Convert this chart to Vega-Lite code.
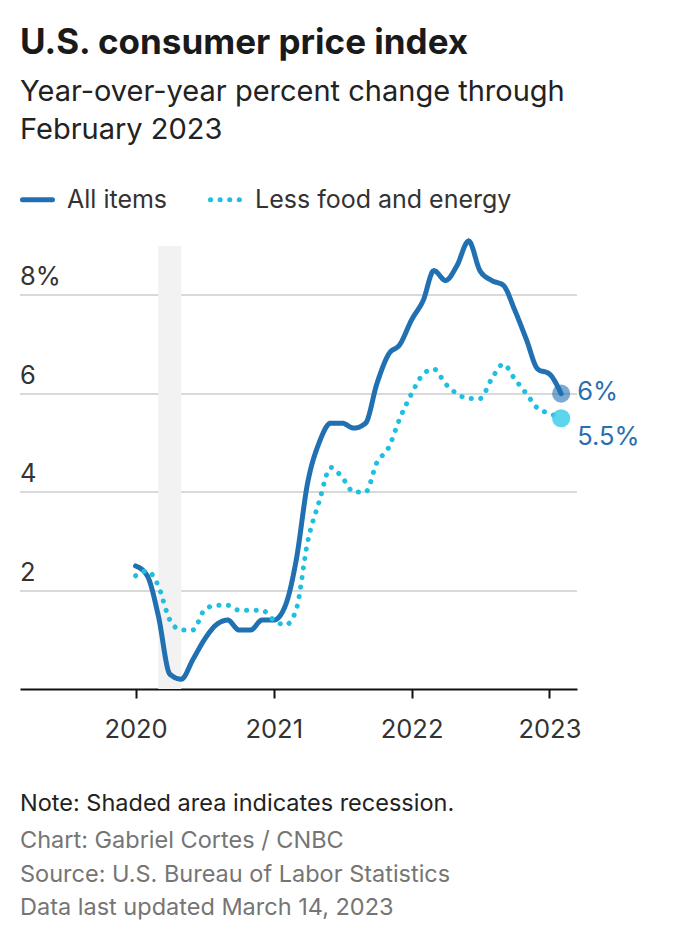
{
  "$schema": "https://vega.github.io/schema/vega-lite/v6.json",
  "background": "white",
  "padding": {"left": 20, "top": 26, "right": 0, "bottom": 0},
  "config": {
    "font": "Inter",
    "view": {"stroke": null},
    "title": {"anchor": "start"}
  },
  "title": {
    "text": "U.S. consumer price index",
    "subtitle": ["Year-over-year percent change through", "February 2023"],
    "anchor": "start",
    "font": "Inter",
    "fontSize": 35,
    "fontWeight": "bold",
    "color": "#1a1a1a",
    "subtitleFont": "Inter",
    "subtitleFontSize": 29,
    "subtitleColor": "#222222",
    "subtitleLineHeight": 38,
    "subtitlePadding": 17,
    "offset": 37
  },
  "vconcat": [
    {
      "width": 557,
      "height": 443,
      "title": {
        "text": "Note: Shaded area indicates recession.",
        "subtitle": ["Chart: Gabriel Cortes / CNBC", "Source: U.S. Bureau of Labor Statistics", "Data last updated March 14, 2023"],
        "orient": "bottom",
        "anchor": "start",
        "font": "Inter",
        "fontSize": 23.5,
        "fontWeight": "normal",
        "color": "#222222",
        "subtitleFont": "Inter",
        "subtitleFontSize": 23.5,
        "subtitleColor": "#757575",
        "subtitleLineHeight": 33.5,
        "subtitlePadding": 14,
        "offset": 49
      },
      "layer": [
        {
          "data": {"values": [{"start": "2020-03-01", "end": "2020-05-01"}]},
          "mark": {"type": "rect", "color": "#f2f2f2"},
          "encoding": {
            "x": {"field": "start", "type": "temporal"},
            "x2": {"field": "end"}
          }
        },
        {
          "data": {
            "values": [
              {"date": "2020-01-01", "All items": 2.5, "Less food and energy": 2.3},
              {"date": "2020-02-01", "All items": 2.3, "Less food and energy": 2.4},
              {"date": "2020-03-01", "All items": 1.5, "Less food and energy": 2.1},
              {"date": "2020-04-01", "All items": 0.3, "Less food and energy": 1.4},
              {"date": "2020-05-01", "All items": 0.2, "Less food and energy": 1.2},
              {"date": "2020-06-01", "All items": 0.6, "Less food and energy": 1.2},
              {"date": "2020-07-01", "All items": 1.0, "Less food and energy": 1.6},
              {"date": "2020-08-01", "All items": 1.3, "Less food and energy": 1.7},
              {"date": "2020-09-01", "All items": 1.4, "Less food and energy": 1.7},
              {"date": "2020-10-01", "All items": 1.2, "Less food and energy": 1.6},
              {"date": "2020-11-01", "All items": 1.2, "Less food and energy": 1.6},
              {"date": "2020-12-01", "All items": 1.4, "Less food and energy": 1.6},
              {"date": "2021-01-01", "All items": 1.4, "Less food and energy": 1.4},
              {"date": "2021-02-01", "All items": 1.7, "Less food and energy": 1.3},
              {"date": "2021-03-01", "All items": 2.6, "Less food and energy": 1.6},
              {"date": "2021-04-01", "All items": 4.2, "Less food and energy": 3.0},
              {"date": "2021-05-01", "All items": 5.0, "Less food and energy": 3.8},
              {"date": "2021-06-01", "All items": 5.4, "Less food and energy": 4.5},
              {"date": "2021-07-01", "All items": 5.4, "Less food and energy": 4.3},
              {"date": "2021-08-01", "All items": 5.3, "Less food and energy": 4.0},
              {"date": "2021-09-01", "All items": 5.4, "Less food and energy": 4.0},
              {"date": "2021-10-01", "All items": 6.2, "Less food and energy": 4.6},
              {"date": "2021-11-01", "All items": 6.8, "Less food and energy": 4.9},
              {"date": "2021-12-01", "All items": 7.0, "Less food and energy": 5.5},
              {"date": "2022-01-01", "All items": 7.5, "Less food and energy": 6.0},
              {"date": "2022-02-01", "All items": 7.9, "Less food and energy": 6.4},
              {"date": "2022-03-01", "All items": 8.5, "Less food and energy": 6.5},
              {"date": "2022-04-01", "All items": 8.3, "Less food and energy": 6.2},
              {"date": "2022-05-01", "All items": 8.6, "Less food and energy": 6.0},
              {"date": "2022-06-01", "All items": 9.1, "Less food and energy": 5.9},
              {"date": "2022-07-01", "All items": 8.5, "Less food and energy": 5.9},
              {"date": "2022-08-01", "All items": 8.3, "Less food and energy": 6.3},
              {"date": "2022-09-01", "All items": 8.2, "Less food and energy": 6.6},
              {"date": "2022-10-01", "All items": 7.7, "Less food and energy": 6.3},
              {"date": "2022-11-01", "All items": 7.1, "Less food and energy": 6.0},
              {"date": "2022-12-01", "All items": 6.5, "Less food and energy": 5.7},
              {"date": "2023-01-01", "All items": 6.4, "Less food and energy": 5.6},
              {"date": "2023-02-01", "All items": 6.0, "Less food and energy": 5.5}
            ]
          },
          "transform": [
            {"fold": ["All items", "Less food and energy"], "as": ["series", "value"]}
          ],
          "mark": {"type": "line", "strokeWidth": 5, "strokeCap": "round", "strokeJoin": "round", "interpolate": "monotone"},
          "encoding": {
            "x": {
              "field": "date",
              "type": "temporal",
              "scale": {"type": "utc", "domain": [{"year": 2019, "month": 3, "date": 1, "utc": true}, {"year": 2023, "month": 3, "date": 15, "utc": true}]},
              "axis": {
                "title": null,
                "values": [{"year": 2020, "utc": true}, {"year": 2021, "utc": true}, {"year": 2022, "utc": true}, {"year": 2023, "utc": true}],
                "format": "%Y",
                "grid": false,
                "domainColor": "#111111",
                "domainWidth": 2,
                "tickColor": "#111111",
                "tickWidth": 2,
                "tickSize": 9,
                "labelPadding": 19,
                "labelFontSize": 25.5,
                "labelColor": "#333333",
                "labelFont": "Inter"
              }
            },
            "y": {
              "field": "value",
              "type": "quantitative",
              "scale": {"domain": [0, 9], "nice": false, "zero": true},
              "axis": {
                "title": null,
                "values": [2, 4, 6, 8],
                "labelExpr": "datum.value == 8 ? '8%' : datum.label",
                "domain": false,
                "ticks": false,
                "grid": true,
                "gridColor": "#cccccc",
                "gridWidth": 1.5,
                "labelAlign": "left",
                "labelBaseline": "alphabetic",
                "labelPadding": 0,
                "labelOffset": -10,
                "labelFontSize": 25.5,
                "labelColor": "#333333",
                "labelFont": "Inter",
                "translate": 0
              }
            },
            "color": {
              "field": "series",
              "type": "nominal",
              "scale": {"domain": ["All items", "Less food and energy"], "range": ["#2171b2", "#1fbfe0"]},
              "legend": {
                "title": null,
                "orient": "top",
                "direction": "horizontal",
                "symbolType": "stroke",
                "symbolStrokeWidth": 5,
                "symbolSize": 900,
                "labelFontSize": 25,
                "labelColor": "#333333",
                "labelFont": "Inter",
                "labelLimit": 500,
                "labelOffset": 12,
                "columnPadding": 32,
                "offset": 25,
                "encode": {"symbols": {"update": {"strokeCap": {"value": "round"}}}}
              }
            },
            "strokeDash": {
              "field": "series",
              "type": "nominal",
              "scale": {"domain": ["All items", "Less food and energy"], "range": [[1, 0], [0.1, 9.5]]},
              "legend": {
                "title": null,
                "orient": "top",
                "direction": "horizontal",
                "symbolType": "stroke",
                "symbolStrokeWidth": 5,
                "symbolSize": 900,
                "labelFontSize": 25,
                "labelColor": "#333333",
                "labelFont": "Inter",
                "labelLimit": 500,
                "labelOffset": 12,
                "columnPadding": 32,
                "offset": 25,
                "encode": {"symbols": {"update": {"strokeCap": {"value": "round"}}}}
              }
            }
          }
        },
        {
          "data": {"values": [{"date": "2023-02-01", "value": 6.0}]},
          "mark": {"type": "circle", "size": 330, "color": "#2171b2", "opacity": 0.6},
          "encoding": {
            "x": {"field": "date", "type": "temporal"},
            "y": {"field": "value", "type": "quantitative"}
          }
        },
        {
          "data": {"values": [{"date": "2023-02-01", "value": 5.5}]},
          "mark": {"type": "circle", "size": 330, "color": "#3fcfec", "opacity": 0.85},
          "encoding": {
            "x": {"field": "date", "type": "temporal"},
            "y": {"field": "value", "type": "quantitative"}
          }
        },
        {
          "data": {"values": [{"date": "2023-02-01", "value": 6.0, "label": "6%"}]},
          "mark": {"type": "text", "align": "left", "baseline": "middle", "dx": 16, "dy": -2, "fontSize": 25.5, "color": "#2a6fb0", "font": "Inter"},
          "encoding": {
            "x": {"field": "date", "type": "temporal"},
            "y": {"field": "value", "type": "quantitative"},
            "text": {"field": "label"}
          }
        },
        {
          "data": {"values": [{"date": "2023-02-01", "value": 5.5, "label": "5.5%"}]},
          "mark": {"type": "text", "align": "left", "baseline": "middle", "dx": 16, "dy": 19, "fontSize": 25.5, "color": "#2a6fb0", "font": "Inter"},
          "encoding": {
            "x": {"field": "date", "type": "temporal"},
            "y": {"field": "value", "type": "quantitative"},
            "text": {"field": "label"}
          }
        }
      ]
    }
  ]
}
